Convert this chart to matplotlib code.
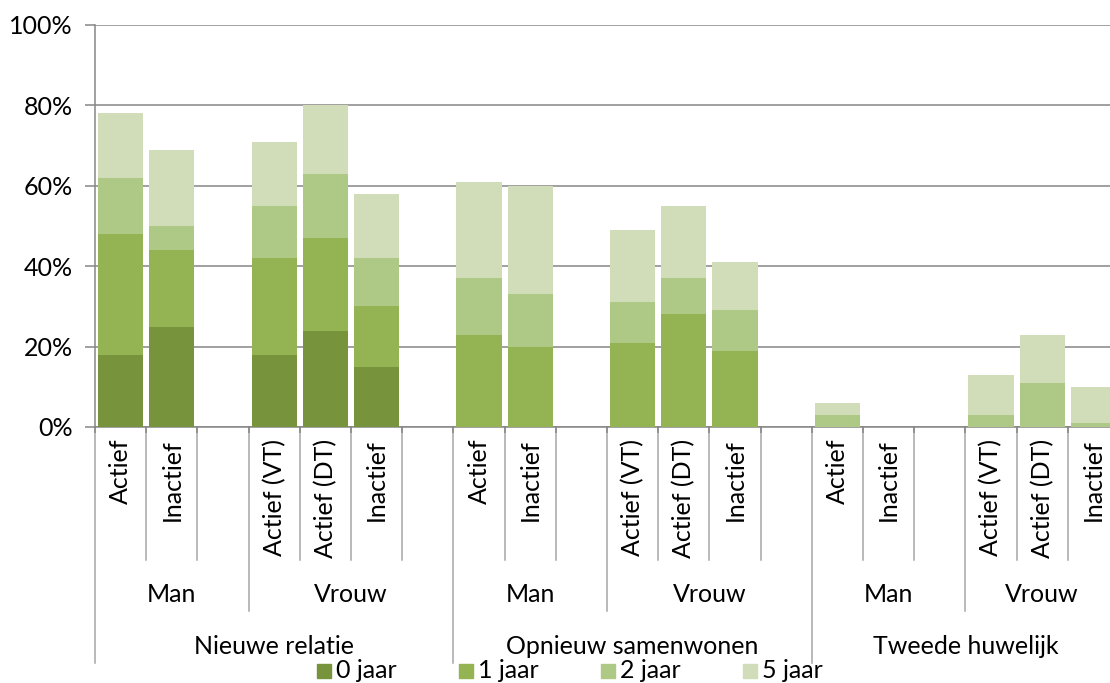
import matplotlib
matplotlib.use("Agg")
import matplotlib.pyplot as plt
import matplotlib.transforms as mtransforms
from matplotlib.patches import Rectangle

plt.rcParams['font.family'] = ['Lato', 'DejaVu Sans']

# ---- data ----
level1 = ['Actief', 'Inactief', '', 'Actief (VT)', 'Actief (DT)', 'Inactief', '',
          'Actief', 'Inactief', '', 'Actief (VT)', 'Actief (DT)', 'Inactief', '',
          'Actief', 'Inactief', '', 'Actief (VT)', 'Actief (DT)', 'Inactief']
level2 = ['Man', 'Vrouw', 'Man', 'Vrouw', 'Man', 'Vrouw']
level2_span = [(0, 3), (3, 7), (7, 10), (10, 14), (14, 17), (17, 20)]
level3 = ['Nieuwe relatie', 'Opnieuw samenwonen', 'Tweede huwelijk']
level3_span = [(0, 7), (7, 14), (14, 20)]

series = ['0 jaar', '1 jaar', '2 jaar', '5 jaar']
y0 = [18, 25, 0, 18, 24, 15, 0, 0, 0, 0, 0, 0, 0, 0, 0, 0, 0, 0, 0, 0]
y1 = [30, 19, 0, 24, 23, 15, 0, 23, 20, 0, 21, 28, 19, 0, 0, 0, 0, 0, 0, 0]
y2 = [14, 6, 0, 13, 16, 12, 0, 14, 13, 0, 10, 9, 10, 0, 3, 0, 0, 3, 11, 1]
y5 = [16, 19, 0, 16, 17, 16, 0, 24, 27, 0, 18, 18, 12, 0, 3, 0, 0, 10, 12, 9]
values = [y0, y1, y2, y5]
colors = ['#77933C', '#94B454', '#AEC886', '#D0DDB8']

yticks = [0, 20, 40, 60, 80, 100]

# ---- figure ----
W, H = 1110, 683
FS = 18
fig = plt.figure(figsize=(W / 100, H / 100), dpi=100)
left_px, right_px, top_px, bot_px = 95, 1119, 25, 427
ax = fig.add_axes([left_px / W, 1 - bot_px / H, (right_px - left_px) / W, (bot_px - top_px) / H])

grid_c = '#868686'
sep_c = '#A6A6A6'

n = len(level1)
xs = [i + 0.5 for i in range(n)]
bottom = [0] * n
for vals, col, name in zip(values, colors, series):
    ax.bar(xs, vals, width=0.88, bottom=bottom, color=col, label=name, zorder=3)
    bottom = [b + v for b, v in zip(bottom, vals)]

ax.set_xlim(0, n)
ax.set_ylim(0, 100)
ax.set_yticks(yticks)
ax.set_yticklabels([f'{t}%' for t in yticks], fontsize=FS, color='#000000')
ax.yaxis.grid(True, color=grid_c, linewidth=1.1, zorder=0)
ax.tick_params(axis='y', length=7, width=1.1, color=grid_c, pad=9)
ax.set_xticks(range(n + 1))
ax.set_xticklabels([])
ax.tick_params(axis='x', length=4.5, width=1.1, color=grid_c)
for s in ['top', 'right']:
    ax.spines[s].set_visible(False)
for s in ['left', 'bottom']:
    ax.spines[s].set_color(grid_c)
    ax.spines[s].set_linewidth(1.1)

trans = mtransforms.blended_transform_factory(ax.transData, ax.transAxes)
ax_h = bot_px - top_px


def ay(p):
    return (bot_px - p) / ax_h


# separators
short_y, mid_y, long_y = ay(560), ay(611), ay(663)
mids = {s for s, e in level2_span} - {s for s, e in level3_span}
longs = {s for s, e in level3_span} | {e for s, e in level3_span}
for b in range(n + 1):
    if b in longs:
        yb = long_y
    elif b in mids:
        yb = mid_y
    else:
        yb = short_y
    ax.plot([b, b], [0, yb], transform=trans, color=sep_c, lw=1.1, clip_on=False, zorder=1)

# category labels
for x, lab in zip(xs, level1):
    if lab:
        ax.text(x, ay(439), lab, transform=trans, rotation=90, ha='center', va='top',
                fontsize=FS, color='#000000')
for lab, (s, e) in zip(level2, level2_span):
    ax.text((s + e) / 2, ay(595), lab, transform=trans, ha='center', va='center',
            fontsize=FS, color='#000000')
for lab, (s, e) in zip(level3, level3_span):
    ax.text((s + e) / 2, ay(646), lab, transform=trans, ha='center', va='center',
            fontsize=FS, color='#000000')

# legend
leg_x = [317, 459, 601, 743]
for lx, col, name in zip(leg_x, colors, series):
    fig.patches.append(Rectangle((lx / W, 1 - 678 / H), 14 / W, 14 / H, color=col,
                                 transform=fig.transFigure, figure=fig))
    fig.text((lx + 19) / W, 1 - 671 / H, name, ha='left', va='center', fontsize=FS,
             color='#000000')

fig.savefig('out.png', dpi=100)
